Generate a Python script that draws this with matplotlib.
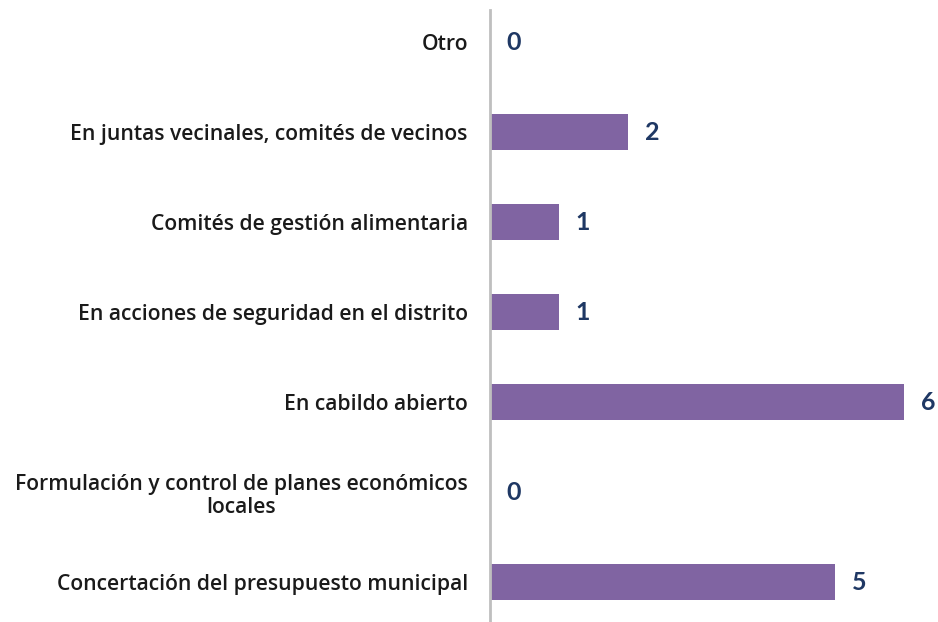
import matplotlib
matplotlib.use("Agg")
import matplotlib.pyplot as plt

categories = [
    "Concertación del presupuesto municipal",
    "Formulación y control de planes económicos\nlocales",
    "En cabildo abierto",
    "En acciones de seguridad en el distrito",
    "Comités de gestión alimentaria",
    "En juntas vecinales, comités de vecinos",
    "Otro",
]
values = [5, 0, 6, 1, 1, 2, 0]

plt.rcParams['font.family'] = ['Open Sans', 'DejaVu Sans']

fig = plt.figure(figsize=(9.38, 6.22), dpi=100)
ax = fig.add_axes([490/938, 0, 448/938, 612/622])

y = list(range(len(categories)))
bars = ax.barh(y, values, height=0.39, color='#8064A2', zorder=2)
ax.set_xlim(0, 448/69)
ax.set_ylim(-0.444, 6.356)

for sp in ['top', 'right', 'bottom']:
    ax.spines[sp].set_visible(False)
ax.spines['left'].set_color('#BFBFBF')
ax.spines['left'].set_linewidth(2)
ax.set_xticks([])
ax.set_yticks(y)
ax.set_yticklabels(categories, fontsize=15.2, fontweight='semibold', color='#1a1a1a',
                   multialignment='center', linespacing=1.15)
ax.tick_params(axis='y', length=0, pad=16)

for yi, v in zip(y, values):
    ax.annotate(str(v), xy=(v, yi), xytext=(12, 0), textcoords='offset points',
                ha='left', va='center', fontsize=18, fontweight='bold', color='#1F3864',
                family=['Lato', 'DejaVu Sans'])

fig.savefig('out.png', dpi=100)
